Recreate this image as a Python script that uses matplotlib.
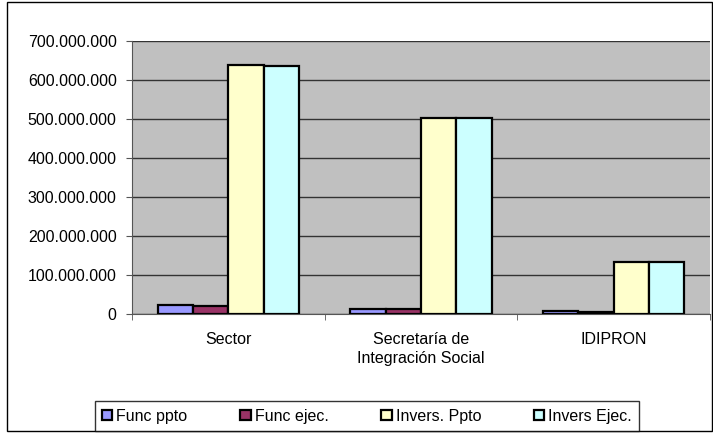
import numpy as np
import matplotlib.pyplot as plt
from matplotlib.patches import Rectangle
from matplotlib.ticker import FuncFormatter

plt.rcParams['font.family'] = ['Liberation Sans', 'DejaVu Sans']

categories = ['Sector', 'Secretaría de\nIntegración Social', 'IDIPRON']
series_names = ['Func ppto', 'Func ejec.', 'Invers. Ppto', 'Invers Ejec.']
func_ppto = [22000000, 12000000, 8500000]
func_ejec = [20000000, 12000000, 6000000]
invers_ppto = [638000000, 503000000, 134000000]
invers_ejec = [637000000, 502000000, 134000000]
colors = ['#9999FF', '#993366', '#FFFFCC', '#CCFFFF']

fig = plt.figure(figsize=(7.13, 4.37), dpi=100)
fig.patches.append(Rectangle((7/713, 6/437), 705/713, 429/437, transform=fig.transFigure,
                             fill=False, edgecolor='black', linewidth=1))
ax = fig.add_axes([132/713, 1 - 314/437, 578/713, 273/437])
ax.set_facecolor('#C0C0C0')

x = np.arange(len(categories))
w = 0.183
for i, vals in enumerate([func_ppto, func_ejec, invers_ppto, invers_ejec]):
    ax.bar(x + (i - 1.5) * w, vals, w, color=colors[i], edgecolor='black',
           linewidth=1.6, label=series_names[i], zorder=3)

ax.set_xlim(-0.5, 2.5)
ax.set_ylim(0, 700000000)
ax.set_yticks(np.arange(0, 700000001, 100000000))
ax.yaxis.set_major_formatter(FuncFormatter(lambda v, p: f'{int(v):,}'.replace(',', '.')))
ax.grid(axis='y', color='#333333', linewidth=1, zorder=0)
ax.set_xticks(x)
ax.set_xticklabels(categories, fontsize=11.5, linespacing=1.35)
ax.set_xticks([-0.5, 0.5, 1.5, 2.5], minor=True)
ax.tick_params(axis='x', which='major', length=0, pad=13)
ax.tick_params(axis='x', which='minor', length=4, color='#555555')
ax.tick_params(axis='y', labelsize=11.5, length=4, color='#555555', pad=7)
for s in ['top', 'right']:
    ax.spines[s].set_visible(False)
ax.spines['left'].set_color('#555555')
ax.spines['bottom'].set_color('#555555')

leg = fig.legend(loc='center', bbox_to_anchor=(367/713, 1 - 416/437), ncol=4,
                 frameon=True, fancybox=False, edgecolor='black', fontsize=11.5,
                 handlelength=0.65, handleheight=0.65, handletextpad=0.25,
                 columnspacing=3.3, borderpad=0.45)
leg.get_frame().set_linewidth(1)

fig.savefig('out.png', dpi=100)
